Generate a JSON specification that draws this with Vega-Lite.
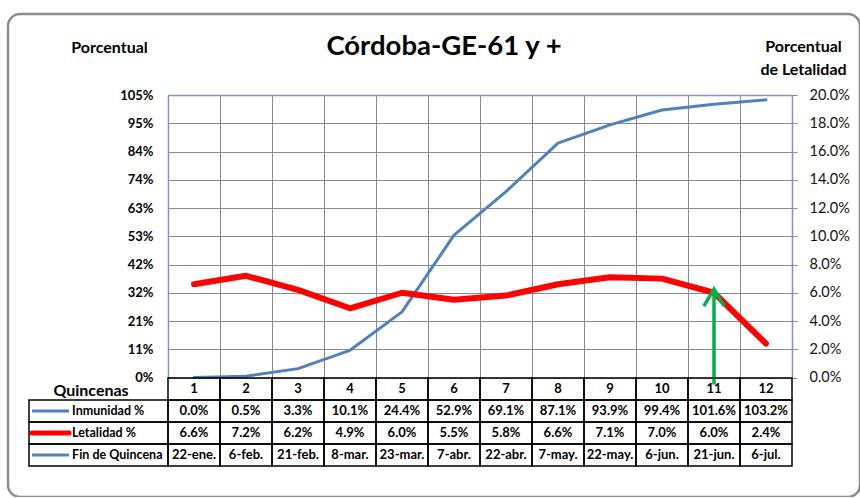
{
  "$schema": "https://vega.github.io/schema/vega-lite/v6.json",
  "width": 852,
  "height": 483,
  "autosize": {"type": "none"},
  "padding": {"left": 8, "top": 14, "right": 0, "bottom": 0},
  "background": "white",
  "config": {
    "font": "Lato",
    "view": {"stroke": "#8c8c8c", "strokeWidth": 2.5, "cornerRadius": 12}
  },
  "title": {
    "text": "Córdoba-GE-61 y +",
    "fontSize": 27.5,
    "fontWeight": "bold",
    "color": "black",
    "anchor": "middle",
    "frame": "group",
    "baseline": "alphabetic",
    "offset": -68,
    "dx": 10
  },
  "datasets": {
    "q": [
      {"q": 1, "inm": 0.0, "let": 0.066, "fecha": "22-ene."},
      {"q": 2, "inm": 0.005, "let": 0.072, "fecha": "6-feb."},
      {"q": 3, "inm": 0.033, "let": 0.062, "fecha": "21-feb."},
      {"q": 4, "inm": 0.101, "let": 0.049, "fecha": "8-mar."},
      {"q": 5, "inm": 0.244, "let": 0.060, "fecha": "23-mar."},
      {"q": 6, "inm": 0.529, "let": 0.055, "fecha": "7-abr."},
      {"q": 7, "inm": 0.691, "let": 0.058, "fecha": "22-abr."},
      {"q": 8, "inm": 0.871, "let": 0.066, "fecha": "7-may."},
      {"q": 9, "inm": 0.939, "let": 0.071, "fecha": "22-may."},
      {"q": 10, "inm": 0.994, "let": 0.070, "fecha": "6-jun."},
      {"q": 11, "inm": 1.016, "let": 0.060, "fecha": "21-jun."},
      {"q": 12, "inm": 1.032, "let": 0.024, "fecha": "6-jul."}
    ],
    "arrow": [{"q": 11, "base": -0.005, "tip": 0.0625}],
    "labels": [
      {"row": "inm", "label": "Inmunidad  %"},
      {"row": "let", "label": "Letalidad %"},
      {"row": "fecha", "label": "Fin de Quincena"}
    ]
  },
  "resolve": {"scale": {"x": "independent", "y": "independent"}},
  "layer": [
    {
      "data": {"name": "q"},
      "mark": {"type": "line", "color": "#4F81BD", "strokeWidth": 3, "strokeJoin": "round", "strokeCap": "round"},
      "encoding": {
        "x": {
          "field": "q", "type": "ordinal", "bandPosition": 0.5,
          "scale": {"type": "band", "domain": [1,2,3,4,5,6,7,8,9,10,11,12], "range": [160, 784], "paddingInner": 0, "paddingOuter": 0},
          "axis": {"orient": "top", "offset": -81, "labels": false, "ticks": false, "title": null, "domain": true, "domainColor": "#7A96C8", "domainWidth": 1.5, "grid": true, "gridColor": "#8a8a8a", "gridWidth": 1, "tickBand": "extent"}
        },
        "y": {
          "field": "inm", "type": "quantitative",
          "scale": {"domain": [0, 1.05], "range": [363.5, 81], "nice": false, "zero": false},
          "axis": {
            "orient": "left", "offset": -160,
            "values": [0, 0.105, 0.21, 0.315, 0.42, 0.525, 0.63, 0.735, 0.84, 0.945, 1.05],
            "labelExpr": "toString(round(datum.value*100 + 0.001)) + '%'",
            "labelFont": "Lato", "labelFontSize": 13, "labelFontWeight": "bold", "labelColor": "black",
            "labelPadding": 15, "ticks": false,
            "domain": true, "domainColor": "#7A96C8", "domainWidth": 1.5,
            "grid": true, "gridColor": "#8a8a8a", "gridWidth": 1,
            "title": "Porcentual", "titleAngle": 0, "titleX": -59, "titleY": 33,
            "titleAlign": "center", "titleBaseline": "middle",
            "titleFont": "Lato", "titleFontSize": 16, "titleFontWeight": "bold", "titleColor": "black"
          }
        }
      }
    },
    {
      "data": {"name": "q"},
      "mark": {"type": "line", "color": "#FF0000", "strokeWidth": 6, "strokeJoin": "round", "strokeCap": "round"},
      "encoding": {
        "x": {
          "field": "q", "type": "ordinal", "bandPosition": 0.5,
          "scale": {"type": "band", "domain": [1,2,3,4,5,6,7,8,9,10,11,12], "range": [160, 784], "paddingInner": 0, "paddingOuter": 0},
          "axis": null
        },
        "y": {
          "field": "let", "type": "quantitative",
          "scale": {"domain": [0, 0.2], "range": [363.5, 81], "nice": false, "zero": false},
          "axis": {
            "orient": "right", "offset": -68,
            "values": [0, 0.02, 0.04, 0.06, 0.08, 0.1, 0.12, 0.14, 0.16, 0.18, 0.2],
            "format": ".1%",
            "labelFont": "Lato", "labelFontSize": 14.5, "labelColor": "#111111",
            "labelPadding": 12, "ticks": true, "tickSize": 5, "tickColor": "#8a8a8a",
            "domain": true, "domainColor": "#7A96C8", "domainWidth": 1.5,
            "grid": false,
            "title": ["Porcentual", "de Letalidad"], "titleAngle": 0, "titleX": 11, "titleY": 24,
            "titleAlign": "center", "titleBaseline": "top", "titleLineHeight": 23,
            "titleFont": "Lato", "titleFontSize": 16, "titleFontWeight": "bold", "titleColor": "black"
          }
        }
      }
    },
    {
      "data": {"name": "arrow"},
      "mark": {"type": "rule", "color": "#00B050", "strokeWidth": 3.5},
      "encoding": {
        "x": {
          "field": "q", "type": "ordinal", "bandPosition": 0.5,
          "scale": {"type": "band", "domain": [1,2,3,4,5,6,7,8,9,10,11,12], "range": [160, 784], "paddingInner": 0, "paddingOuter": 0},
          "axis": null
        },
        "y": {
          "field": "tip", "type": "quantitative",
          "scale": {"domain": [0, 0.2], "range": [363.5, 81], "nice": false, "zero": false},
          "axis": null
        },
        "y2": {"field": "base"}
      }
    },
    {
      "data": {"name": "arrow"},
      "mark": {"type": "point", "shape": "M -0.6 1 L 0 0 L 0.6 1", "filled": false, "stroke": "#00B050", "strokeWidth": 3.5, "size": 1156, "opacity": 1},
      "encoding": {
        "x": {
          "field": "q", "type": "ordinal", "bandPosition": 0.5,
          "scale": {"type": "band", "domain": [1,2,3,4,5,6,7,8,9,10,11,12], "range": [160, 784], "paddingInner": 0, "paddingOuter": 0},
          "axis": null
        },
        "y": {
          "field": "tip", "type": "quantitative",
          "scale": {"domain": [0, 0.2], "range": [363.5, 81], "nice": false, "zero": false},
          "axis": null
        }
      }
    },
    {
      "data": {"name": "q"},
      "transform": [
        {"calculate": "'' + datum.q", "as": "qs"},
        {"fold": ["qs", "inm", "let", "fecha"], "as": ["key", "val"]}
      ],
      "mark": {"type": "rect", "fill": "white", "fillOpacity": 0, "stroke": "black", "strokeWidth": 1.5},
      "encoding": {
        "x": {
          "field": "q", "type": "ordinal",
          "scale": {"type": "band", "domain": [1,2,3,4,5,6,7,8,9,10,11,12], "range": [160, 784], "paddingInner": 0, "paddingOuter": 0},
          "axis": null
        },
        "y": {
          "field": "key", "type": "nominal",
          "scale": {"type": "band", "domain": ["qs", "inm", "let", "fecha"], "range": [364, 452], "paddingInner": 0, "paddingOuter": 0},
          "axis": null
        }
      }
    },
    {
      "data": {"name": "q"},
      "mark": {"type": "text", "font": "Lato", "fontSize": 13, "fontWeight": "bold", "color": "black", "baseline": "middle"},
      "encoding": {
        "x": {
          "field": "q", "type": "ordinal", "bandPosition": 0.5,
          "scale": {"type": "band", "domain": [1,2,3,4,5,6,7,8,9,10,11,12], "range": [160, 784], "paddingInner": 0, "paddingOuter": 0},
          "axis": null
        },
        "y": {
          "datum": "qs", "type": "nominal", "bandPosition": 0.5,
          "scale": {"type": "band", "domain": ["qs", "inm", "let", "fecha"], "range": [364, 452], "paddingInner": 0, "paddingOuter": 0},
          "axis": null
        },
        "text": {"field": "q", "type": "ordinal"}
      }
    },
    {
      "data": {"name": "q"},
      "mark": {"type": "text", "font": "Lato", "fontSize": 13, "fontWeight": "bold", "color": "black", "baseline": "middle"},
      "encoding": {
        "x": {
          "field": "q", "type": "ordinal", "bandPosition": 0.5,
          "scale": {"type": "band", "domain": [1,2,3,4,5,6,7,8,9,10,11,12], "range": [160, 784], "paddingInner": 0, "paddingOuter": 0},
          "axis": null
        },
        "y": {
          "datum": "inm", "type": "nominal", "bandPosition": 0.5,
          "scale": {"type": "band", "domain": ["qs", "inm", "let", "fecha"], "range": [364, 452], "paddingInner": 0, "paddingOuter": 0},
          "axis": null
        },
        "text": {"field": "inm", "type": "quantitative", "format": ".1%"}
      }
    },
    {
      "data": {"name": "q"},
      "mark": {"type": "text", "font": "Lato", "fontSize": 13, "fontWeight": "bold", "color": "black", "baseline": "middle"},
      "encoding": {
        "x": {
          "field": "q", "type": "ordinal", "bandPosition": 0.5,
          "scale": {"type": "band", "domain": [1,2,3,4,5,6,7,8,9,10,11,12], "range": [160, 784], "paddingInner": 0, "paddingOuter": 0},
          "axis": null
        },
        "y": {
          "datum": "let", "type": "nominal", "bandPosition": 0.5,
          "scale": {"type": "band", "domain": ["qs", "inm", "let", "fecha"], "range": [364, 452], "paddingInner": 0, "paddingOuter": 0},
          "axis": null
        },
        "text": {"field": "let", "type": "quantitative", "format": ".1%"}
      }
    },
    {
      "data": {"name": "q"},
      "mark": {"type": "text", "font": "Lato", "fontSize": 13, "fontWeight": "bold", "color": "black", "baseline": "middle"},
      "encoding": {
        "x": {
          "field": "q", "type": "ordinal", "bandPosition": 0.5,
          "scale": {"type": "band", "domain": [1,2,3,4,5,6,7,8,9,10,11,12], "range": [160, 784], "paddingInner": 0, "paddingOuter": 0},
          "axis": null
        },
        "y": {
          "datum": "fecha", "type": "nominal", "bandPosition": 0.5,
          "scale": {"type": "band", "domain": ["qs", "inm", "let", "fecha"], "range": [364, 452], "paddingInner": 0, "paddingOuter": 0},
          "axis": null
        },
        "text": {"field": "fecha", "type": "nominal"}
      }
    },
    {
      "data": {"name": "labels"},
      "mark": {"type": "rect", "fill": "white", "fillOpacity": 0, "stroke": "black", "strokeWidth": 1.5},
      "encoding": {
        "x": {"datum": "lab", "type": "nominal", "scale": {"type": "band", "domain": ["lab"], "range": [21, 160], "paddingInner": 0, "paddingOuter": 0}, "axis": null},
        "y": {"field": "row", "type": "nominal", "scale": {"type": "band", "domain": ["qs", "inm", "let", "fecha"], "range": [364, 452], "paddingInner": 0, "paddingOuter": 0}, "axis": null}
      }
    },
    {
      "data": {"name": "labels"},
      "mark": {"type": "text", "font": "Lato", "fontSize": 12.5, "fontWeight": "bold", "color": "black", "align": "left", "baseline": "middle"},
      "encoding": {
        "x": {"datum": "lab", "type": "nominal", "bandPosition": 0.31, "scale": {"type": "band", "domain": ["lab"], "range": [21, 160], "paddingInner": 0, "paddingOuter": 0}, "axis": null},
        "y": {"field": "row", "type": "nominal", "bandPosition": 0.5, "scale": {"type": "band", "domain": ["qs", "inm", "let", "fecha"], "range": [364, 452], "paddingInner": 0, "paddingOuter": 0}, "axis": null},
        "text": {"field": "label", "type": "nominal"}
      }
    },
    {
      "data": {"name": "labels"},
      "transform": [{"filter": "datum.row != 'let'"}],
      "mark": {"type": "point", "shape": "M -1 0 L 1 0", "filled": false, "stroke": "#4F81BD", "strokeWidth": 3, "size": 1369, "opacity": 1},
      "encoding": {
        "x": {"datum": "lab", "type": "nominal", "bandPosition": 0.155, "scale": {"type": "band", "domain": ["lab"], "range": [21, 160], "paddingInner": 0, "paddingOuter": 0}, "axis": null},
        "y": {"field": "row", "type": "nominal", "bandPosition": 0.5, "scale": {"type": "band", "domain": ["qs", "inm", "let", "fecha"], "range": [364, 452], "paddingInner": 0, "paddingOuter": 0}, "axis": null}
      }
    },
    {
      "data": {"name": "labels"},
      "transform": [{"filter": "datum.row == 'let'"}],
      "mark": {"type": "point", "shape": "M -1 0 L 1 0", "filled": false, "stroke": "#FF0000", "strokeWidth": 5, "strokeCap": "round", "size": 1369, "opacity": 1},
      "encoding": {
        "x": {"datum": "lab", "type": "nominal", "bandPosition": 0.155, "scale": {"type": "band", "domain": ["lab"], "range": [21, 160], "paddingInner": 0, "paddingOuter": 0}, "axis": null},
        "y": {"field": "row", "type": "nominal", "bandPosition": 0.5, "scale": {"type": "band", "domain": ["qs", "inm", "let", "fecha"], "range": [364, 452], "paddingInner": 0, "paddingOuter": 0}, "axis": null}
      }
    },
    {
      "data": {"name": "labels"},
      "transform": [{"filter": "datum.row == 'inm'"}],
      "mark": {"type": "text", "text": "Quincenas", "font": "Lato", "fontSize": 16, "fontWeight": "bold", "color": "black", "align": "center", "baseline": "middle"},
      "encoding": {
        "x": {"datum": "lab", "type": "nominal", "bandPosition": 0.446, "scale": {"type": "band", "domain": ["lab"], "range": [21, 160], "paddingInner": 0, "paddingOuter": 0}, "axis": null},
        "y": {"datum": "qs", "type": "nominal", "bandPosition": 0.6, "scale": {"type": "band", "domain": ["qs", "inm", "let", "fecha"], "range": [364, 452], "paddingInner": 0, "paddingOuter": 0}, "axis": null}
      }
    }
  ]
}
